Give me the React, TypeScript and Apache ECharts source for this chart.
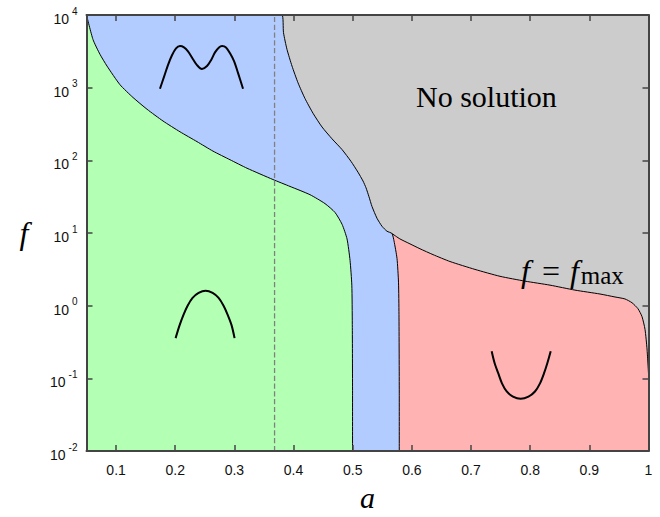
import React, { useEffect, useRef } from "react";
import * as echarts from "echarts";

const X_MIN = 0.05;
const X_MAX = 1.0;
const Y_MIN = 0.01;
const Y_MAX = 10000;

const xTickValues = [0.1, 0.2, 0.3, 0.4, 0.5, 0.6, 0.7, 0.8, 0.9, 1];

// green / blue boundary
const greenBoundary: [number, number][] = [
  [0.05, 10000], [0.061, 4592], [0.0728, 2877], [0.0847, 1982], [0.1066, 1099],
  [0.1286, 733], [0.1523, 505], [0.1793, 348], [0.2081, 247], [0.2368, 181],
  [0.2638, 134], [0.2926, 102], [0.3213, 78], [0.3652, 54.5], [0.394, 43.8],
  [0.4278, 33.7], [0.4532, 25.4], [0.4701, 19.2], [0.482, 13.2], [0.4904, 8.3],
  [0.4955, 4.19], [0.4985, 1.92], [0.4993, 0.553], [0.4997, 0.0627], [0.4997, 0.01],
];

// f = f_max boundary, left part (gray above, blue below)
const fmaxLeft: [number, number][] = [
  [0.05, 10000], [0.3805, 10000], [0.383, 5715], [0.3889, 3365], [0.3974, 1982],
  [0.4075, 1169], [0.4193, 710], [0.4329, 445], [0.4481, 288], [0.465, 198],
  [0.4819, 141], [0.4971, 96.9], [0.5089, 68.8], [0.5174, 52.0], [0.5225, 41.9],
  [0.5275, 31.6], [0.5326, 23.2], [0.541, 16.0], [0.5495, 12.4], [0.5579, 10.6],
  [0.5664, 9.84],
];

// blue / red boundary
const blueRedBoundary: [number, number][] = [
  [0.5698, 7.8], [0.5749, 4.46], [0.5774, 2.11], [0.5782, 0.755], [0.5787, 0.0627],
  [0.5787, 0.01],
];

// f = f_max boundary, right part (gray above, red below)
const fmaxRight: [number, number][] = [
  [0.5664, 9.84], [0.5799, 8.3], [0.5968, 7.1], [0.6137, 6.08], [0.6357, 5.05],
  [0.6644, 4.06], [0.7067, 3.16], [0.749, 2.54], [0.7912, 2.18], [0.8335, 1.92],
  [0.8757, 1.64], [0.918, 1.45], [0.9433, 1.32], [0.9602, 1.24], [0.9721, 1.1],
  [0.9822, 0.91], [0.989, 0.71], [0.9941, 0.474], [0.9975, 0.254], [1.0, 0.117],
];

const dashedA = 0.3679;
const dashedLine: [number, number][] = [[dashedA, Y_MIN], [dashedA, Y_MAX]];

// small illustrative curves
const iconM: [number, number][] = [
  [0.1742, 968], [0.181, 1409], [0.1877, 2046], [0.1945, 2793], [0.2013, 3475],
  [0.208, 3733], [0.2148, 3584], [0.2216, 3162], [0.23, 2466], [0.2368, 2046],
  [0.2452, 1807], [0.2537, 1982], [0.2605, 2388], [0.2672, 3062], [0.274, 3584],
  [0.2791, 3733], [0.2858, 3584], [0.2926, 2972], [0.2994, 2317], [0.3061, 1596],
  [0.3146, 968],
];
const iconCap: [number, number][] = [
  [0.2006, 0.358], [0.2073, 0.537], [0.2141, 0.755], [0.2209, 1.0], [0.2293, 1.28],
  [0.2395, 1.5], [0.2513, 1.61], [0.2632, 1.5], [0.2733, 1.28], [0.2817, 1.0],
  [0.2885, 0.755], [0.2953, 0.537], [0.3003, 0.358],
];
const iconU: [number, number][] = [
  [0.7349, 0.2366], [0.7397, 0.1644], [0.7461, 0.117], [0.7523, 0.0855],
  [0.7603, 0.0661], [0.7709, 0.0562], [0.7839, 0.0525], [0.7971, 0.0562],
  [0.8081, 0.0661], [0.8166, 0.0855], [0.8233, 0.117], [0.8292, 0.1644],
  [0.8347, 0.2366],
];

const GREEN = "#b3ffb3";
const BLUE = "#b3ccff";
const GRAY = "#cccccc";
const RED = "#ffb3b3";
const FRAME = "#444444";

function segments(list: [number, number][][]): any[] {
  const out: any[] = [];
  list.forEach((s, i) => {
    if (i) out.push("-");
    out.push(...s);
  });
  return out;
}

export default function App() {
  const ref = useRef<HTMLDivElement>(null);
  useEffect(() => {
    if (!ref.current) return;
    const chart = echarts.init(ref.current, null, { renderer: "svg" });
    const serif = '"Liberation Serif", "DejaVu Serif", serif';
    const sans = '"Liberation Sans", Arial, sans-serif';

    const fill = (data: [number, number][], color: string) => ({
      type: "line",
      data,
      symbol: "none",
      smooth: 0.2,
      lineStyle: { color: "#000", width: 1 },
      areaStyle: { color, opacity: 1, origin: "start" },
      z: 2,
    });

    const axisLine = () => ({ show: true, onZero: false, lineStyle: { color: FRAME, width: 2 } });
    const axisTick = (custom?: number[]) => ({
      show: true,
      inside: true,
      length: 6,
      lineStyle: { color: FRAME, width: 1.5 },
      ...(custom ? { customValues: custom } : {}),
    });

    chart.setOption({
      animation: false,
      grid: {
        left: 86.5,
        right: 11.5,
        top: 15,
        bottom: 58.5,
        show: true,
        backgroundColor: GRAY,
        borderWidth: 0,
      },
      title: [
        {
          text: "No solution",
          left: 416,
          top: 81,
          padding: 0,
          textStyle: { fontFamily: serif, fontSize: 30, fontWeight: "normal", color: "#000" },
        },
        {
          text: "{i|f}{e|=}{i|f}{s|max}",
          left: 521,
          top: 253,
          padding: 0,
          textStyle: {
            fontFamily: serif,
            fontSize: 32,
            fontWeight: "normal",
            color: "#000",
            rich: {
              i: { fontFamily: serif, fontSize: 32, fontStyle: "italic", color: "#000" },
              e: { fontFamily: serif, fontSize: 32, color: "#000", padding: [0, 10, 0, 12] },
              s: { fontFamily: serif, fontSize: 25, color: "#000", padding: [10, 0, 0, 2] },
            },
          },
        },
      ],
      xAxis: [
        {
          type: "value",
          min: X_MIN,
          max: X_MAX,
          position: "bottom",
          z: 10,
          name: "a",
          nameLocation: "middle",
          nameGap: 24,
          nameTextStyle: { fontFamily: serif, fontStyle: "italic", fontSize: 30, color: "#000" },
          splitLine: { show: false },
          axisLine: axisLine(),
          axisTick: axisTick(xTickValues),
          axisLabel: {
            show: true,
            customValues: xTickValues,
            margin: 12,
            color: "#111",
            fontSize: 14,
            fontFamily: sans,
            formatter: (v: number) => (Math.abs(v - 1) < 1e-9 ? "1" : v.toFixed(1)),
          },
        },
        {
          type: "value",
          min: X_MIN,
          max: X_MAX,
          position: "top",
          z: 10,
          splitLine: { show: false },
          axisLine: axisLine(),
          axisTick: axisTick(xTickValues),
          axisLabel: { show: false },
        },
      ],
      yAxis: [
        {
          type: "log",
          logBase: 10,
          min: Y_MIN,
          max: Y_MAX,
          position: "left",
          z: 10,
          name: "f",
          nameLocation: "middle",
          nameRotate: 0,
          nameGap: 58,
          nameTextStyle: { fontFamily: serif, fontStyle: "italic", fontSize: 32, color: "#000" },
          splitLine: { show: false },
          axisLine: axisLine(),
          axisTick: axisTick(),
          axisLabel: {
            show: true,
            margin: 9,
            color: "#111",
            fontFamily: sans,
            formatter: (v: number) => `{b|10}{s|${Math.round(Math.log10(v))}}`,
            rich: {
              b: { fontSize: 14, fontFamily: sans, color: "#111", padding: [8, 0, 0, 0] },
              s: { fontSize: 10, fontFamily: sans, color: "#111", padding: [0, 0, 8, 3] },
            },
          },
        },
        {
          type: "log",
          logBase: 10,
          min: Y_MIN,
          max: Y_MAX,
          position: "right",
          z: 10,
          splitLine: { show: false },
          axisLine: axisLine(),
          axisTick: axisTick(),
          axisLabel: { show: false },
        },
      ],
      series: [
        fill(fmaxRight, RED),
        fill([...fmaxLeft, ...blueRedBoundary], BLUE),
        fill(greenBoundary, GREEN),
        {
          type: "line",
          data: dashedLine,
          symbol: "none",
          lineStyle: { color: "#808080", width: 1.3, type: "dashed" },
          z: 3,
        },
        {
          type: "line",
          data: segments([iconM, iconCap, iconU]),
          symbol: "none",
          smooth: 0.3,
          connectNulls: false,
          lineStyle: { color: "#000", width: 2 },
          z: 4,
        },
      ],
    });
    return () => chart.dispose();
  }, []);
  return (
    <div
      ref={ref}
      style={{ position: "absolute", left: 0, top: 0, width: 660, height: 517, background: "#fff" }}
    />
  );
}
